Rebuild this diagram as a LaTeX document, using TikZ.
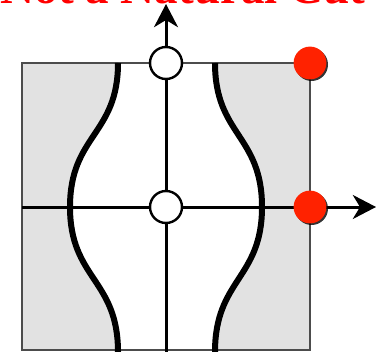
\documentclass[tikz,border=0pt]{standalone}
\usepackage{fontspec}
\newfontfamily\titlefont{Liberation Serif}
\usetikzlibrary{positioning, arrows.meta, calc, shadows}
\definecolor{cutred}{RGB}{255,34,0}
\definecolor{titlered}{RGB}{255,0,0}
\definecolor{regiongray}{RGB}{226,226,226}

\begin{document}
\begin{tikzpicture}[
    x=0.25mm, y=-0.25mm, % one unit = one pixel, y pointing down
    >={Stealth[length=5.8mm, width=6mm, inset=1.8mm]},
    axis/.style={
        line width=0.75mm,
        draw=black
    },
    cutcurve/.style={
        line width=1.5mm,
        draw=black
    },
    region/.style={
        fill=regiongray
    },
    opendot/.style={
        circle,
        draw=black,
        line width=0.6mm,
        fill=white,
        minimum size=8mm,
        inner sep=0pt
    },
    reddot/.style={
        circle,
        fill=cutred,
        minimum size=8.2mm,
        inner sep=0pt,
        drop shadow={shadow xshift=0.4mm, shadow yshift=-0.4mm, fill=black, opacity=0.8}
    }
]

    % =======================================================
    % Frame of the picture
    % =======================================================
    \useasboundingbox (0,0) rectangle (382,352);
    \clip (0,0) rectangle (382,352);

    % Title (only its lower part is seen)
    \node[anchor=base, text=titlered, inner sep=0pt,
          font=\titlefont\bfseries\fontsize{33.5}{35}\selectfont] (title) at (183,4) {Not a Natural Cut};

    % =======================================================
    % Gray regions beside the cut curves
    % =======================================================
    \fill[region] (22,63) -- (118,63)
        .. controls (118,135) and (70,135) .. (70,207)
        .. controls (70,279) and (118,279) .. (118,350)
        -- (22,350) -- cycle;
    \fill[region] (310,63) -- (215,63)
        .. controls (215,135) and (262,135) .. (262,207)
        .. controls (262,279) and (215,279) .. (215,350)
        -- (310,350) -- cycle;

    % Square border
    \draw[line width=0.5mm, draw=black!70] (22,63) rectangle (310,350);

    % =======================================================
    % Axes
    % =======================================================
    \coordinate (vBot) at (166,352);
    \coordinate (vTip) at (166,4);
    \coordinate (hLeft) at (22,207);
    \coordinate (hTip) at (376,207);
    \draw[axis, ->] (vBot) -- (vTip);
    \draw[axis, ->] (hLeft) -- (hTip);

    % =======================================================
    % Cut curves
    % =======================================================
    \draw[cutcurve] (118,63)
        .. controls (118,135) and (70,135) .. (70,207)
        .. controls (70,279) and (118,279) .. (118,352);
    \draw[cutcurve] (215,63)
        .. controls (215,135) and (262,135) .. (262,207)
        .. controls (262,279) and (215,279) .. (215,352);

    % =======================================================
    % Points
    % =======================================================
    \node[opendot] (topO) at (166,63) {};
    \node[opendot] (midO) at (166,207) {};
    \node[reddot] (topR) at (310,63) {};
    \node[reddot] (midR) at (310,207) {};

\end{tikzpicture}
\end{document}
